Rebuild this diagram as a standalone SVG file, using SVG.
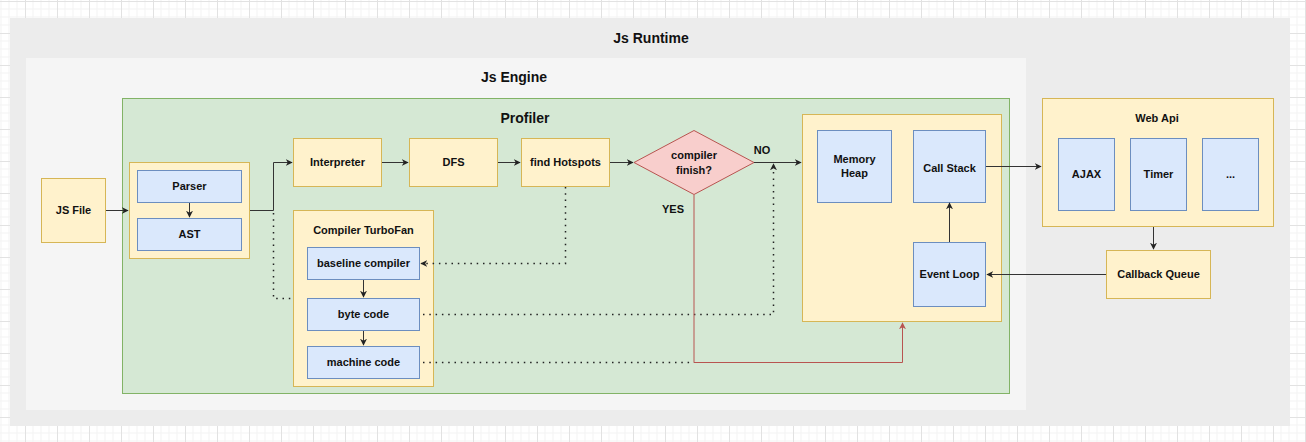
<svg xmlns="http://www.w3.org/2000/svg" width="1306" height="442" viewBox="0 0 1306 442">
<defs>
<pattern id="grid" x="25" y="1" width="32" height="32" patternUnits="userSpaceOnUse">
<path d="M8 0V32M16 0V32M24 0V32M0 8H32M0 16H32M0 24H32" stroke="#f3f3f3" stroke-width="1" fill="none"/>
<path d="M0.5 0V32M0 0.5H32" stroke="#e2e2e2" stroke-width="1" fill="none"/>
</pattern>
<marker id="arr" viewBox="0 0 10 10" refX="9" refY="5" markerWidth="7" markerHeight="7" orient="auto" markerUnits="userSpaceOnUse">
<path d="M0 0L10 5L0 10L3 5Z" fill="#222"/>
</marker>
<marker id="arrR" viewBox="0 0 10 10" refX="9" refY="5" markerWidth="7" markerHeight="7" orient="auto" markerUnits="userSpaceOnUse">
<path d="M0 0L10 5L0 10L3 5Z" fill="#b85450"/>
</marker>
<style>
.y{fill:#fff2cc;stroke:#d6b656;stroke-width:1}
.b{fill:#dae8fc;stroke:#6c8ebf;stroke-width:1}
.t{font-family:"Liberation Sans",Arial,Helvetica,sans-serif;font-weight:bold;font-size:11px;fill:#111;text-anchor:middle}
.h{font-size:14px}
.e{fill:none;stroke:#333;stroke-width:1}
.d{fill:none;stroke:#222;stroke-width:1.5;stroke-dasharray:1.5 4.8}
.r{fill:none;stroke:#b85450;stroke-width:1}
</style>
</defs>
<rect x="0" y="0" width="1306" height="442" fill="#ffffff"/>
<rect x="0" y="0" width="1306" height="442" fill="url(#grid)"/>

<g id="js-runtime">
<rect x="10" y="18" width="1280" height="408" fill="#ececec"/>
<text class="t h" x="651" y="43">Js Runtime</text>
</g>
<g id="js-engine">
<rect x="26" y="58" width="1000" height="352" fill="#f5f5f5"/>
<text class="t h" x="514" y="82">Js Engine</text>
</g>
<g id="profiler">
<rect x="122.5" y="98.5" width="887" height="295" fill="#d5e8d4" stroke="#82b366"/>
<text class="t h" x="525" y="123">Profiler</text>
</g>

<g id="js-file">
<rect class="y" x="41.5" y="178.5" width="64" height="64"/>
<text class="t" x="73.5" y="214">JS File</text>
</g>
<g id="parser-group">
<rect class="y" x="129.5" y="162.5" width="120" height="96"/>
</g>
<g id="parser">
<rect class="b" x="137.5" y="170.5" width="104" height="32"/>
<text class="t" x="189.5" y="190">Parser</text>
</g>
<g id="ast">
<rect class="b" x="137.5" y="218.5" width="104" height="32"/>
<text class="t" x="189.5" y="238">AST</text>
</g>
<g id="interpreter">
<rect class="y" x="293.5" y="138.5" width="88" height="48"/>
<text class="t" x="337.5" y="166">Interpreter</text>
</g>
<g id="dfs">
<rect class="y" x="409.5" y="138.5" width="88" height="48"/>
<text class="t" x="453.5" y="166">DFS</text>
</g>
<g id="find-hotspots">
<rect class="y" x="521.5" y="138.5" width="88" height="48"/>
<text class="t" x="565.5" y="166">find Hotspots</text>
</g>
<g id="compiler-turbofan">
<rect class="y" x="293.5" y="210.5" width="140" height="176"/>
<text class="t" x="363.5" y="234">Compiler TurboFan</text>
</g>
<g id="baseline-compiler">
<rect class="b" x="307.5" y="247.5" width="112" height="32"/>
<text class="t" x="363.5" y="267">baseline compiler</text>
</g>
<g id="byte-code">
<rect class="b" x="307.5" y="298.5" width="112" height="32"/>
<text class="t" x="363.5" y="318">byte code</text>
</g>
<g id="machine-code">
<rect class="b" x="307.5" y="346.5" width="112" height="32"/>
<text class="t" x="363.5" y="366">machine code</text>
</g>
<g id="compiler-finish">
<path d="M694 130.5L754 162.5L694 194.5L634 162.5Z" fill="#f8cecc" stroke="#b85450"/>
<text class="t" x="694" y="159">compiler</text>
<text class="t" x="694" y="174">finish?</text>
</g>
<g id="runtime-box">
<rect class="y" x="802.5" y="114.5" width="199" height="207"/>
</g>
<g id="memory-heap">
<rect class="b" x="817.5" y="130.5" width="74" height="72"/>
<text class="t" x="854.5" y="163">Memory</text>
<text class="t" x="854.5" y="177">Heap</text>
</g>
<g id="call-stack">
<rect class="b" x="913.5" y="130.5" width="72" height="72"/>
<text class="t" x="949.5" y="172">Call Stack</text>
</g>
<g id="event-loop">
<rect class="b" x="913.5" y="242.5" width="72" height="64"/>
<text class="t" x="949.5" y="278">Event Loop</text>
</g>
<g id="web-api">
<rect class="y" x="1042.5" y="98.5" width="231" height="128"/>
<text class="t" x="1157" y="122">Web Api</text>
</g>
<g id="ajax">
<rect class="b" x="1058.5" y="138.5" width="56" height="72"/>
<text class="t" x="1086.5" y="178">AJAX</text>
</g>
<g id="timer">
<rect class="b" x="1130.5" y="138.5" width="56" height="72"/>
<text class="t" x="1158.5" y="178">Timer</text>
</g>
<g id="more">
<rect class="b" x="1202.5" y="138.5" width="56" height="72"/>
<text class="t" x="1230.5" y="178">...</text>
</g>
<g id="callback-queue">
<rect class="y" x="1106.5" y="250.5" width="104" height="48"/>
<text class="t" x="1158.5" y="278">Callback Queue</text>
</g>

<g id="connectors">
<path class="e" d="M106 210.5H128" marker-end="url(#arr)"/>
<path class="e" d="M189.5 203V217" marker-end="url(#arr)"/>
<path class="e" d="M250 210.5H273.5V162.5H292" marker-end="url(#arr)"/>
<path class="d" d="M273.5 213V298.5H293"/>
<path class="e" d="M382 162.5H408" marker-end="url(#arr)"/>
<path class="e" d="M498 162.5H520" marker-end="url(#arr)"/>
<path class="e" d="M610 162.5H633" marker-end="url(#arr)"/>
<path class="d" d="M565.5 187V263.5H421" marker-end="url(#arr)"/>
<path class="e" d="M363.5 280V297" marker-end="url(#arr)"/>
<path class="e" d="M363.5 331V345" marker-end="url(#arr)"/>
<path class="e" d="M754 162.5H801" marker-end="url(#arr)"/>
<text class="t" x="762" y="154">NO</text>
<path class="d" d="M423 314.5H773.5V164" marker-end="url(#arr)"/>
<path class="d" d="M423 362.5H694"/>
<path class="r" d="M694 195V362.5H902.5V323" marker-end="url(#arrR)"/>
<text class="t" x="673" y="213">YES</text>
<path class="e" d="M949.5 242V203" marker-end="url(#arr)"/>
<path class="e" d="M986 166.5H1041" marker-end="url(#arr)"/>
<path class="e" d="M1153.5 227V249" marker-end="url(#arr)"/>
<path class="e" d="M1106 274.5H987" marker-end="url(#arr)"/>
</g>
</svg>
